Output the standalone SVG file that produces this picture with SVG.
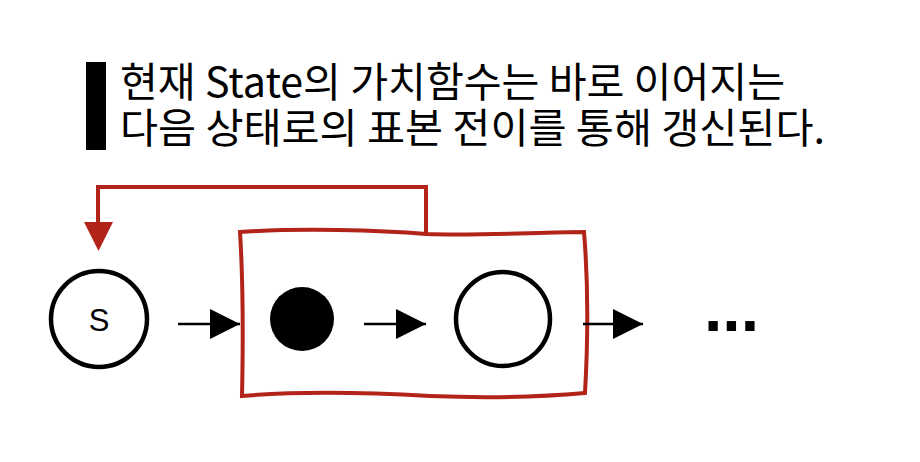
<svg xmlns="http://www.w3.org/2000/svg" width="920" height="462" viewBox="0 0 920 462">
<defs>
<style>
.title{font-family:"Noto Sans CJK KR","Noto Sans",sans-serif;font-size:41px;fill:#000}
.node{fill:#fff;stroke:#000;stroke-width:4.5}
.edge{stroke:#000;stroke-width:2.5;fill:none}
.red{stroke:#B2241A;stroke-width:4;fill:none}
</style>
<marker id="ah" viewBox="0 0 30 30" refX="30" refY="15" markerWidth="30" markerHeight="30" markerUnits="userSpaceOnUse" orient="auto">
<path d="M0,0 L30,15 L0,30 Z" fill="#000"/>
</marker>
</defs>
<rect width="920" height="462" fill="#fff"/>
<g id="title">
<rect x="86" y="62" width="20" height="88" fill="#000"/>
<text class="title"><tspan x="120" y="97" textLength="665" lengthAdjust="spacingAndGlyphs">현재 State의 가치함수는 바로 이어지는</tspan><tspan x="120" y="143" textLength="705" lengthAdjust="spacingAndGlyphs">다음 상태로의 표본 전이를 통해 갱신된다.</tspan></text>
</g>
<g id="box">
<path class="red" d="M240,232 C300,228 380,230 426,234 C480,236 540,232 584,232 C588,280 588,340 585,393 C540,397 480,398 430,396 C360,392 300,391 242,396 C243,350 243,280 240,232 Z"/>
</g>
<g id="node-s">
<circle class="node" cx="99" cy="319" r="48"/>
<text x="99" y="331" text-anchor="middle" font-family="'Liberation Sans',sans-serif" font-size="31">S</text>
</g>
<g id="node-filled">
<circle cx="302" cy="319" r="32" fill="#000"/>
</g>
<g id="node-open">
<circle class="node" cx="503" cy="319" r="47"/>
</g>
<g id="ellipsis">
<text x="704" y="331" font-family="'Liberation Sans',sans-serif" font-weight="bold" font-size="66">...</text>
</g>
<g id="connectors">
<line class="edge" x1="178" y1="324" x2="240" y2="324" marker-end="url(#ah)"/>
<line class="edge" x1="364" y1="324" x2="426" y2="324" marker-end="url(#ah)"/>
<line class="edge" x1="583" y1="324" x2="643" y2="324" marker-end="url(#ah)"/>
<polyline class="red" points="426,233 426,187 98,187 98,225"/>
<path d="M84,222 L113,222 L98.5,251 Z" fill="#B2241A"/>
</g>
</svg>
